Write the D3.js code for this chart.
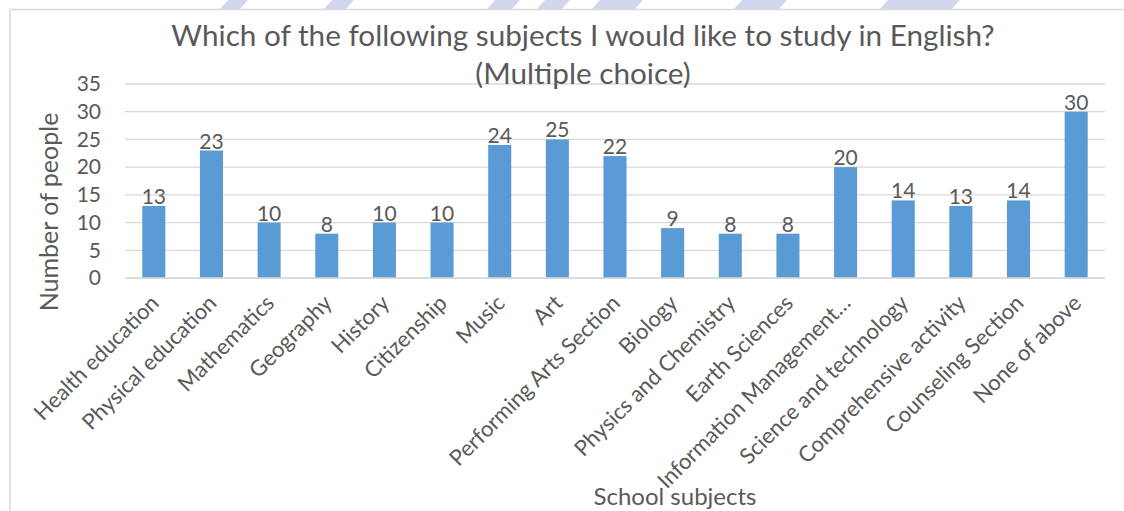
<!DOCTYPE html>
<html>
<head>
<meta charset="utf-8">
<script src="https://cdn.jsdelivr.net/npm/d3@7"></script>
<style>
  html, body { margin: 0; padding: 0; background: #fff; }
  svg { display: block; }
  text { font-family: Lato, "Open Sans", sans-serif; fill: #595959; }
</style>
</head>
<body>
<svg id="chart" width="1124" height="511"></svg>
<script>
// Survey answers: subjects students would like to study in English
const subjects = [
  "Health education", "Physical education", "Mathematics", "Geography",
  "History", "Citizenship", "Music", "Art", "Performing Arts Section",
  "Biology", "Physics and Chemistry", "Earth Sciences",
  "Information Management…", "Science and technology",
  "Comprehensive activity", "Counseling Section", "None of above"
];
const counts = [13, 23, 10, 8, 10, 10, 24, 25, 22, 9, 8, 8, 20, 14, 13, 14, 30];
const yTicks = [0, 5, 10, 15, 20, 25, 30, 35];
const titleLines = [
  "Which of the following subjects I would like to study in English?",
  "(Multiple choice)"
];
const xTitle = "School subjects";
const yTitle = "Number of people";

const svg = d3.select("#chart");
const W = 1124, H = 511;

// faint watermark strokes peeking above the chart frame
const wm = svg.append("g").attr("fill", "#d3d6ef");
[[228, 248], [332, 354], [495, 520], [545, 570], [600, 643], [742, 787], [888, 960]]
  .forEach(([a, b]) => {
    wm.append("path").attr("d", `M${a},0 L${b},0 L${b - 8},9 L${a - 8},9 Z`);
  });

// chart frame
svg.append("rect")
  .attr("x", 10).attr("y", 9.5)
  .attr("width", W + 20).attr("height", H + 20)
  .attr("fill", "#fff").attr("stroke", "#d9d9d9").attr("stroke-width", 1.5);

const plot = { left: 125, right: 1105, top: 84, bottom: 278 };

const x = d3.scaleBand()
  .domain(subjects)
  .range([plot.left, plot.right])
  .paddingInner(0.6)
  .paddingOuter(0.3);

const y = d3.scaleLinear()
  .domain([0, 35])
  .range([plot.bottom, plot.top]);

// gridlines
svg.append("g")
  .selectAll("line")
  .data(yTicks)
  .join("line")
  .attr("x1", plot.left).attr("x2", plot.right)
  .attr("y1", d => y(d)).attr("y2", d => y(d))
  .attr("stroke", "#d9d9d9").attr("stroke-width", 1.3);

// y axis labels
const yAxis = svg.append("g")
  .attr("transform", `translate(${plot.left},0)`)
  .call(d3.axisLeft(y).tickValues(yTicks).tickSize(0).tickPadding(24));
yAxis.select(".domain").remove();
yAxis.selectAll("text")
  .attr("font-size", 21)
  .attr("font-family", "Lato, sans-serif")
  .attr("fill", "#595959");

// bars
svg.append("g")
  .selectAll("rect")
  .data(counts)
  .join("rect")
  .attr("x", (d, i) => x(subjects[i]))
  .attr("width", x.bandwidth())
  .attr("y", d => y(d))
  .attr("height", d => y(0) - y(d))
  .attr("fill", "#5b9bd5");

// value labels
svg.append("g")
  .selectAll("text")
  .data(counts)
  .join("text")
  .attr("x", (d, i) => x(subjects[i]) + x.bandwidth() / 2)
  .attr("y", d => y(d) - 2)
  .attr("text-anchor", "middle")
  .attr("font-size", 21)
  .attr("fill", "#404040")
  .text(d => d);

// category labels, rotated
const xAxis = svg.append("g")
  .attr("transform", `translate(0,${plot.bottom})`)
  .call(d3.axisBottom(x).tickSize(0).tickPadding(0));
xAxis.select(".domain")
  .attr("stroke", "#d9d9d9").attr("stroke-width", 1.3)
  .attr("d", `M${plot.left},0H${plot.right}`);
xAxis.selectAll(".tick text")
  .attr("font-size", 22)
  .attr("font-family", "Lato, sans-serif")
  .attr("fill", "#595959")
  .attr("text-anchor", "end")
  .attr("dy", "0.35em")
  .attr("transform", "translate(1,21) rotate(-45)");

// titles
const title = svg.append("text")
  .attr("text-anchor", "middle")
  .attr("font-size", 29.7)
  .attr("fill", "#595959");
title.selectAll("tspan")
  .data(titleLines)
  .join("tspan")
  .attr("x", 583)
  .attr("y", (d, i) => 46 + i * 38)
  .text(d => d);

svg.append("text")
  .attr("x", 675).attr("y", 505)
  .attr("text-anchor", "middle")
  .attr("font-size", 24)
  .text(xTitle);

svg.append("text")
  .attr("transform", "translate(58,212) rotate(-90)")
  .attr("text-anchor", "middle")
  .attr("font-size", 25)
  .text(yTitle);
</script>
</body>
</html>
